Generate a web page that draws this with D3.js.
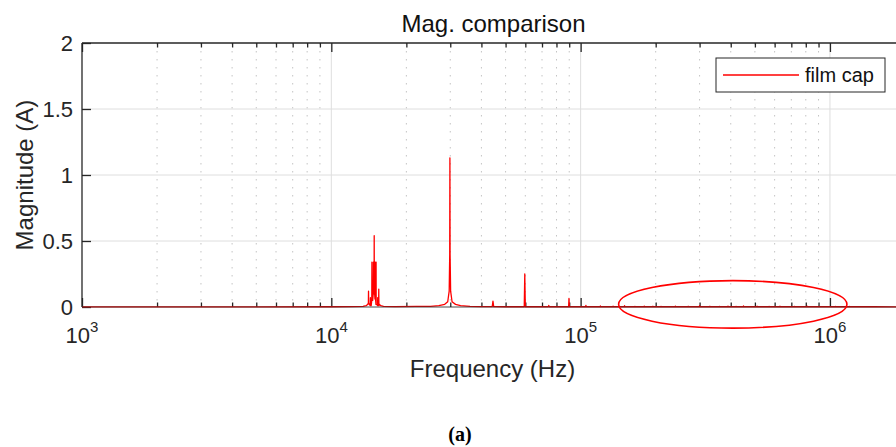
<!DOCTYPE html>
<html>
<head>
<meta charset="utf-8">
<script src="https://cdn.jsdelivr.net/npm/d3@7"></script>
<style>
  body { margin: 0; background: #fff; }
  svg { display: block; font-family: "Liberation Sans", Arial, Helvetica, sans-serif; }
</style>
</head>
<body>
<div id="viz"></div>
<script>
// spectrum of the film cap current (Hz, A)
var freq = [1000, 5000, 10000, 12000, 13400, 13800, 14000, 14080, 14100, 14120, 14200,
    14330, 14350, 14370, 14450, 14530, 14550, 14570, 14650, 14730, 14750, 14770, 14800,
    14845, 14860, 14875, 14920, 14965, 14980, 14995, 15050, 15105, 15120, 15135, 15200,
    15330, 15350, 15370, 15480, 15500, 15520, 15600, 15800, 16200, 18000, 22000, 25000,
    27000, 28500, 29300, 29700, 29850, 29900, 29950, 30100, 30500, 31500, 33000, 36000,
    40000, 44200, 44500, 44800, 50000, 59400, 59700, 60000, 70000, 74200, 74500, 74800,
    85000, 89500, 89800, 90100, 100000, 104700, 105000, 105300, 119700, 120000, 120300,
    134600, 135000, 135400, 149600, 150000, 150400, 164600, 165000, 165400, 179500, 180000,
    180500, 194500, 195000, 195500, 209500, 210000, 210500, 239400, 240000, 240600,
    269300, 270000, 270700, 299200, 300000, 300800, 329100, 330000, 330900, 359000,
    360000, 361000, 389000, 390000, 391000, 419000, 420000, 421000, 449000, 450000,
    451000, 509000, 510000, 511000, 569000, 570000, 571000, 629000, 630000, 631000,
    719000, 720000, 721000, 809000, 810000, 811000, 899000, 900000, 901000, 1049000,
    1050000, 1051000, 1199000, 1200000, 1201000, 1500000, 2000000];
var mag = [0.001, 0.001, 0.002, 0.003, 0.005, 0.01, 0.02, 0.03, 0.12, 0.03, 0.02,
    0.01, 0.07, 0.01, 0.01, 0.05, 0.34, 0.05, 0.05, 0.1, 0.34, 0.1, 0.1,
    0.1, 0.54, 0.1, 0.1, 0.06, 0.34, 0.06, 0.06, 0.02, 0.34, 0.02, 0.02,
    0.01, 0.07, 0.01, 0.01, 0.136, 0.01, 0.02, 0.01, 0.005, 0.003, 0.004, 0.005,
    0.01, 0.02, 0.04, 0.12, 0.4, 1.13, 0.4, 0.12, 0.04, 0.02, 0.01, 0.005,
    0.003, 0.003, 0.045, 0.003, 0.002, 0.002, 0.25, 0.002, 0.002, 0.002, 0.012, 0.002,
    0.002, 0.002, 0.065, 0.002, 0.002, 0.002, 0.012, 0.002, 0.002, 0.008, 0.002,
    0.002, 0.006, 0.002, 0.002, 0.01, 0.002, 0.002, 0.005, 0.002, 0.002, 0.007,
    0.002, 0.002, 0.006, 0.002, 0.002, 0.005, 0.002, 0.002, 0.007, 0.002,
    0.002, 0.006, 0.002, 0.002, 0.01, 0.002, 0.002, 0.006, 0.002, 0.002,
    0.005, 0.002, 0.002, 0.007, 0.002, 0.002, 0.005, 0.002, 0.002, 0.008,
    0.002, 0.002, 0.006, 0.002, 0.002, 0.005, 0.002, 0.002, 0.006, 0.002,
    0.002, 0.005, 0.002, 0.002, 0.006, 0.002, 0.002, 0.004, 0.002, 0.002,
    0.005, 0.002, 0.002, 0.004, 0.002, 0.002, 0.001];

var yTicks = [0, 0.5, 1, 1.5, 2];
var xMajor = [1e3, 1e4, 1e5, 1e6];
var xDomain = [1e3, 2e6];
// red ellipse drawn round the high-frequency part (Hz range, A range)
var ringFreq = [1.42e5, 1.17e6];
var ringMag = [-0.16, 0.2];

var W = 896, H = 447;
var margin = { left: 82, top: 43, bottom: 140 };
var plotW = 823;
var plotH = H - margin.top - margin.bottom;
var axisCol = '#262626';

var svg = d3.select('#viz').append('svg').attr('width', W).attr('height', H);
var g = svg.append('g').attr('transform', 'translate(' + margin.left + ',' + margin.top + ')');

var x = d3.scaleLog().domain(xDomain).range([0, plotW]);
var y = d3.scaleLinear().domain([0, 2]).range([plotH, 0]);

// minor tick values 2..9 x decade
var xMinor = [];
xMajor.forEach(function (d) {
    for (var k = 2; k <= 9; k++) {
        if (d * k <= xDomain[1]) xMinor.push(d * k);
    }
});

// grids
g.selectAll('.minor-grid').data(xMinor).enter().append('line')
    .attr('x1', function (d) { return x(d); }).attr('x2', function (d) { return x(d); })
    .attr('y1', 0).attr('y2', plotH)
    .attr('stroke', '#c4c4c4').attr('stroke-width', 1)
    .attr('stroke-dasharray', '1.5,6.5');
g.selectAll('.major-grid-x').data(xMajor.slice(1)).enter().append('line')
    .attr('x1', function (d) { return x(d); }).attr('x2', function (d) { return x(d); })
    .attr('y1', 0).attr('y2', plotH)
    .attr('stroke', '#dedede').attr('stroke-width', 1);
g.selectAll('.major-grid-y').data(yTicks.slice(1, -1)).enter().append('line')
    .attr('x1', 0).attr('x2', plotW)
    .attr('y1', function (d) { return y(d); }).attr('y2', function (d) { return y(d); })
    .attr('stroke', '#dedede').attr('stroke-width', 1);

// data line
var pts = freq.map(function (f, i) { return [f, mag[i]]; });
var line = d3.line()
    .x(function (d) { return x(d[0]); })
    .y(function (d) { return y(d[1]); });

// axes: ticks point inward
function styleAxis(sel) {
    sel.select('.domain').remove();
    sel.selectAll('.tick line').attr('stroke', axisCol).attr('stroke-width', 1.3);
    sel.selectAll('text').remove();
}
g.append('g').attr('transform', 'translate(0,' + plotH + ')')
    .call(d3.axisBottom(x).tickValues(xMajor).tickSize(-9)).call(styleAxis);
g.append('g').attr('transform', 'translate(0,' + plotH + ')')
    .call(d3.axisBottom(x).tickValues(xMinor).tickSize(-4.5)).call(styleAxis);
g.append('g')
    .call(d3.axisTop(x).tickValues(xMajor).tickSize(-9)).call(styleAxis);
g.append('g')
    .call(d3.axisTop(x).tickValues(xMinor).tickSize(-4.5)).call(styleAxis);

var yAxis = g.append('g')
    .call(d3.axisLeft(y).tickValues(yTicks).tickSize(-9).tickPadding(9).tickFormat(d3.format('')));
yAxis.select('.domain').remove();
yAxis.selectAll('.tick line').attr('stroke', axisCol).attr('stroke-width', 1.3);
yAxis.selectAll('text').attr('fill', axisCol).style('font-size', '22px')
    .attr('font-family', '"Liberation Sans", Arial, sans-serif');

g.append('path').datum(pts)
    .attr('d', line)
    .attr('fill', 'none')
    .attr('stroke', '#ff0000')
    .attr('stroke-width', 1.3)
    .attr('stroke-linejoin', 'round');

// box (left, top, bottom)
g.append('line').attr('x1', 0).attr('x2', 0).attr('y1', 0).attr('y2', plotH)
    .attr('stroke', axisCol).attr('stroke-width', 1.3);
g.append('line').attr('x1', 0).attr('x2', plotW).attr('y1', 0).attr('y2', 0)
    .attr('stroke', axisCol).attr('stroke-width', 1.3);
g.append('line').attr('x1', 0).attr('x2', plotW).attr('y1', plotH).attr('y2', plotH)
    .attr('stroke', axisCol).attr('stroke-width', 1.3).attr('opacity', 0.55);

// x tick labels 10^n
var xl = g.selectAll('.xlab').data(xMajor).enter().append('text')
    .attr('x', function (d) { return x(d); })
    .attr('y', plotH + 36)
    .attr('text-anchor', 'middle')
    .attr('fill', axisCol)
    .style('font-size', '22px');
xl.append('tspan').text('10');
xl.append('tspan').attr('dy', -11).style('font-size', '15px')
    .text(function (d) { return Math.round(Math.log10(d)); });

// red ellipse annotation
var ex0 = x(ringFreq[0]), ex1 = x(ringFreq[1]);
var ey0 = y(ringMag[1]), ey1 = y(ringMag[0]);
g.append('ellipse')
    .attr('cx', (ex0 + ex1) / 2).attr('cy', (ey0 + ey1) / 2)
    .attr('rx', (ex1 - ex0) / 2).attr('ry', (ey1 - ey0) / 2)
    .attr('fill', 'none').attr('stroke', '#ff0000').attr('stroke-width', 1.6);

// titles
g.append('text').attr('x', plotW / 2).attr('y', -11)
    .attr('text-anchor', 'middle').attr('fill', '#111')
    .style('font-size', '24px').text('Mag. comparison');
g.append('text').attr('x', plotW / 2 - 1).attr('y', plotH + 70)
    .attr('text-anchor', 'middle').attr('fill', axisCol)
    .style('font-size', '24px').text('Frequency (Hz)');
g.append('text')
    .attr('transform', 'translate(-49,' + (plotH / 2) + ') rotate(-90)')
    .attr('text-anchor', 'middle').attr('fill', axisCol)
    .style('font-size', '24px').text('Magnitude (A)');

// legend
var leg = g.append('g').attr('transform', 'translate(634,15)');
leg.append('rect').attr('width', 169).attr('height', 34)
    .attr('fill', '#fff').attr('stroke', axisCol).attr('stroke-width', 1);
leg.append('line').attr('x1', 7).attr('x2', 83).attr('y1', 17).attr('y2', 17)
    .attr('stroke', '#ff0000').attr('stroke-width', 1.3);
leg.append('text').attr('x', 89).attr('y', 17).attr('dy', '0.35em')
    .attr('fill', '#111').style('font-size', '20px').text('film cap');

// caption
svg.append('text').attr('x', 460).attr('y', 441)
    .attr('text-anchor', 'middle')
    .attr('font-family', '"Liberation Serif", "Times New Roman", serif')
    .attr('font-weight', 'bold').style('font-size', '20px')
    .text('(a)');
</script>
</body>
</html>
